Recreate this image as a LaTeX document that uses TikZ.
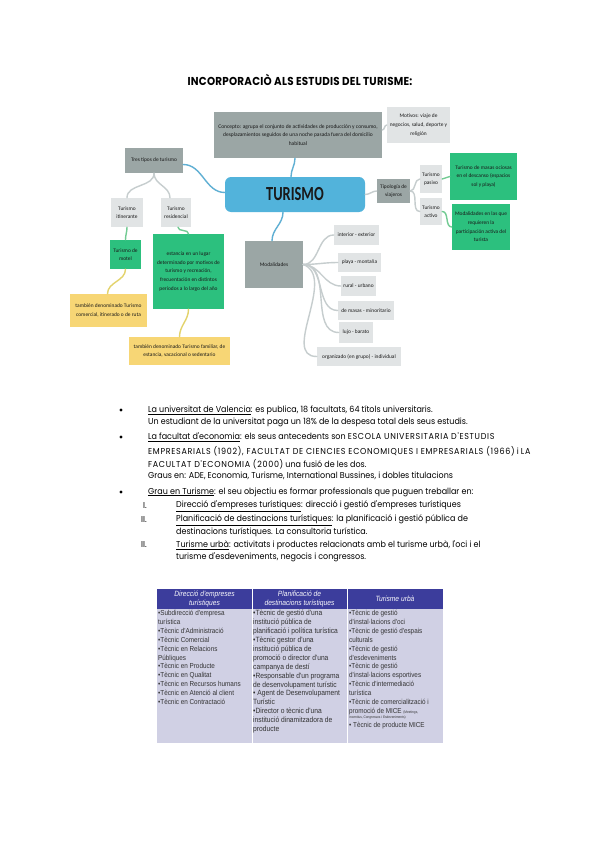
\documentclass[tikz,border=0pt]{standalone}
\usepackage{fontspec}
\usepackage{tikz}
\newfontfamily\bodyfont[FakeStretch=0.93]{Poppins}
\newfontfamily\capsfont[FakeStretch=0.93,LetterSpace=8]{Poppins}
\newfontfamily\headfont[FakeStretch=0.9,LetterSpace=2]{Poppins}
\newfontfamily\mapfont{Carlito}
\newfontfamily\bigmapfont[FakeStretch=0.72]{Carlito}
\newfontfamily\tabfont[FakeStretch=0.88]{Liberation Sans}
\definecolor{mapblue}{HTML}{52B3DB}
\definecolor{mapdark}{HTML}{9BA6A5}
\definecolor{maplight}{HTML}{E1E4E5}
\definecolor{mapgreen}{HTML}{2CC07E}
\definecolor{mapyellow}{HTML}{F7D675}
\definecolor{linkblue}{HTML}{5FAFD3}
\definecolor{linkgrey}{HTML}{C6CDCE}
\definecolor{linkgreen}{HTML}{72CB93}
\definecolor{linkyellow}{HTML}{E3D36C}
\definecolor{tabheadblue}{HTML}{3C3D9C}
\definecolor{tabbody}{HTML}{D0D0E4}
\newcommand{\caps}[1]{{\capsfont #1}}

\begin{document}
\begin{tikzpicture}[x=1pt,y=-1pt,
    box/.style={inner sep=1pt,align=center,font=\mapfont\fontsize{5.4}{8.6}\selectfont,text=black!90},
    darkbox/.style={box,fill=mapdark},
    lightbox/.style={box,fill=maplight},
    greenbox/.style={box,fill=mapgreen},
    yellowbox/.style={box,fill=mapyellow},
    link/.style={line width=1.4pt,line cap=round,#1},
    textline/.style={anchor=west,inner sep=0,font=\bodyfont\fontsize{8.6}{10}\selectfont},
    tabtext/.style={anchor=north west,inner sep=0,align=left,font=\tabfont\fontsize{7.2}{8.9}\selectfont,text=black!80},
    headcell/.style={align=center,inner sep=0,font=\tabfont\itshape\fontsize{7.6}{8.4}\selectfont,text=white!88!tabbody}]
  \fill[white] (0,0) rectangle (599,848);
  \useasboundingbox (0,0) rectangle (599,848);

  \node[font=\headfont\bfseries\fontsize{11.5}{13}\selectfont] (title) at (300,80) {INCORPORACIÒ ALS ESTUDIS DEL TURISME:};

  \node[box,fill=mapblue,rounded corners=6pt,minimum width=140,minimum height=35,font=\bigmapfont\bfseries\fontsize{20}{21}\selectfont,text=black!90] (turismo) at (295,194.5) {TURISMO};
  \node[darkbox,minimum width=168,minimum height=46,font=\mapfont\fontsize{5.5}{8.8}\selectfont] (concept) at (298,135) {Concepto: agrupa el conjunto de actividades de producción y consumo,\\desplazamientos seguidos de una noche pasada fuera del domicilio\\habitual};
  \node[lightbox,minimum width=63,minimum height=36] (motivos) at (418.5,125) {Motivos: viaje de\\negocios, salud, deporte y\\religión};
  \node[darkbox,minimum width=58,minimum height=25] (tres) at (154,160.5) {Tres tipos de turismo};
  \node[lightbox,minimum width=32,minimum height=29] (itinerante) at (127,212.5) {Turismo\\itinerante};
  \node[lightbox,minimum width=30,minimum height=29] (residencial) at (176,212.5) {Turismo\\residencial};
  \node[greenbox,minimum width=31,minimum height=29] (motel) at (125.5,254.5) {Turismo de\\motel};
  \node[greenbox,minimum width=71,minimum height=75] (estancia) at (188.5,271.5) {estancia en un lugar\\determinado por motivos de\\turismo y recreación,\\frecuentación en distintos\\periodos a lo largo del año};
  \node[yellowbox,minimum width=77,minimum height=33] (comercial) at (108.5,310.5) {también denominado Turismo\\comercial, itinerado o de ruta};
  \node[yellowbox,minimum width=101,minimum height=28] (familiar) at (179.5,351) {también denominado Turismo familiar, de\\estancia, vacacional o sedentario};
  \node[darkbox,minimum width=58,minimum height=47] (modalidades) at (274,264.5) {Modalidades};
  \node[lightbox,minimum width=45,minimum height=20] (interior) at (356.5,235) {interior - exterior};
  \node[lightbox,minimum width=43,minimum height=19] (playa) at (359.5,262.5) {playa - montaña};
  \node[lightbox,minimum width=35,minimum height=20] (rural) at (358.5,286) {rural - urbano};
  \node[lightbox,minimum width=56,minimum height=19] (masas) at (366,310.5) {de masas - minoritario};
  \node[lightbox,minimum width=34,minimum height=21] (lujo) at (356,332.5) {lujo - barato};
  \node[lightbox,minimum width=84,minimum height=19] (organizado) at (359,356.5) {organizado (en grupo) - individual};
  \node[darkbox,minimum width=33,minimum height=24] (tipologia) at (393.5,191) {Tipología de\\viajeros};
  \node[lightbox,minimum width=22,minimum height=28] (pasivo) at (431,179) {Turismo\\pasivo};
  \node[lightbox,minimum width=22,minimum height=27] (activo) at (431,211.5) {Turismo\\activo};
  \node[greenbox,minimum width=67,minimum height=47] (ocio) at (483.5,176.5) {Turismo de masas ociosas\\en el descanso (espacios\\sol y playa)};
  \node[greenbox,minimum width=58,minimum height=46] (participa) at (481,227) {Modalidades en las que\\requieren la\\participación activa del\\turista};

  \draw[link=linkblue] ([xshift=-4]turismo.north) to[out=90,in=-90] ([xshift=-3]concept.south);
  \draw[link=linkgrey] ([yshift=5]concept.east) to[out=0,in=180] (motivos.west);
  \draw[link=linkblue] ([yshift=2]turismo.west) to[out=180,in=0] ([yshift=-4]tres.east);
  \draw[link=linkgrey] (tres.south) to[out=-90,in=90] (itinerante.north);
  \draw[link=linkgrey] (tres.south) to[out=-90,in=90] ([xshift=-6]residencial.north);
  \draw[link=linkgreen] (itinerante.south) to[out=-90,in=90] (motel.north);
  \draw[link=linkgreen] ([xshift=2]residencial.south) to[out=-90,in=90] (estancia.north);
  \draw[link=linkyellow] (motel.south) to[out=-90,in=90] ([xshift=-1]comercial.north);
  \draw[link=linkyellow] (estancia.south) to[out=-90,in=90] (familiar.north);
  \draw[link=linkblue] ([xshift=-12]turismo.south) to[out=-90,in=90] ([xshift=-2]modalidades.north);
  \foreach \leaf in {interior,playa,rural,masas,lujo}
    \draw[link=linkgrey] (modalidades.east) to[out=0,in=180] (\leaf.west);
  \draw[link=linkgrey] (modalidades.east) to[out=-20,in=180] (organizado.west);
  \draw[link=linkgrey] (turismo.east) to[out=0,in=180] (tipologia.west);
  \draw[link=linkgrey] (tipologia.east) to[out=0,in=180] (pasivo.west);
  \draw[link=linkgrey] (tipologia.east) to[out=0,in=180] (activo.west);
  \draw[link=linkgreen] (pasivo.east) to[out=0,in=180] (ocio.west);
  \draw[link=linkgreen] (activo.east) to[out=0,in=180] (participa.west);

  \fill (121,410) circle (1.7);
  \fill (121,437) circle (1.7);
  \fill (121,492) circle (1.7);
  \node[textline] (l1) at (148,410) {\underline{La universitat de Valencia}: es publica, 18 facultats, 64 títols universitaris.};
  \node[textline] (l2) at (148,422) {Un estudiant de la universitat paga un 18\% de la despesa total dels seus estudis.};
  \node[textline] (l3) at (148,437) {\underline{La facultat d'economia}: els seus antecedents son \caps{ESCOLA UNIVERSITARIA D'ESTUDIS}};
  \node[textline] (l4) at (148,451) {\caps{EMPRESARIALS (1902), FACULTAT DE CIENCIES ECONOMIQUES I EMPRESARIALS (1966)} i \caps{LA}};
  \node[textline] (l5) at (148,464) {\caps{FACULTAT D'ECONOMIA (2000)} una fusió de les dos.};
  \node[textline] (l6) at (148,476) {Graus en: ADE, Economia, Turisme, International Bussines, i dobles titulacions};
  \node[textline] (l7) at (148,492) {\underline{Grau en Turisme}: el seu objectiu es formar professionals que puguen treballar en:};
  \node[textline] (n1) at (143,506) {I.};
  \node[textline] (l8) at (176,506) {\underline{Direcció d'empreses turístiques}: direcció i gestió d'empreses turístiques};
  \node[textline] (n2) at (141,520) {II.};
  \node[textline] (l9) at (176,520) {\underline{Planificació de destinacions turístiques}: la planificació i gestió pública de};
  \node[textline] (l10) at (176,532) {destinacions turístiques. La consultoria turística.};
  \node[textline] (n3) at (141,545) {II.};
  \node[textline] (l11) at (176,545) {\underline{Turisme urbà}: activitats i productes relacionats amb el turisme urbà, l'oci i el};
  \node[textline] (l12) at (176,557) {turisme d'esdeveniments, negocis i congressos.};

  \fill[tabheadblue] (157,589) rectangle (443,609);
  \fill[tabbody] (157,609) rectangle (443,743);
  \draw[white,line width=0.8pt] (252,589) -- (252,743) (347,589) -- (347,743);
  \node[headcell] (h1) at (204.5,599) {Direcció d'empreses\\turístiques};
  \node[headcell] (h2) at (299.5,599) {Planificació de\\destinacions turístiques};
  \node[headcell] (h3) at (395,599) {Turisme urbà};
  \node[tabtext] (c1) at (158,610) {•Subdirecció d'empresa\\turística\\•Tècnic d'Administració\\•Tècnic Comercial\\•Tècnic en Relacions\\Públiques\\•Tècnic en Producte\\•Tècnic en Qualitat\\•Tècnic en Recursos humans\\•Tècnic en Atenció al client\\•Tècnic en Contractació};
  \node[tabtext,font=\tabfont\fontsize{7.6}{8.9}\selectfont] (c2) at (253,610) {•Tècnic de gestió d'una\\institució pública de\\planificació i política turística\\•Tècnic gestor d'una\\institució pública de\\promoció o director d'una\\campanya de destí\\•Responsable d'un programa\\de desenvolupament turístic\\• Agent de Desenvolupament\\Turístic\\•Director o tècnic d'una\\institució dinamitzadora de\\producte};
  \node[tabtext] (c3) at (349,610) {•Tècnic de gestió\\d'instal·lacions d'oci\\•Tècnic de gestió d'espais\\culturals\\•Tècnic de gestió\\d'esdeveniments\\•Tècnic de gestió\\d'instal·lacions esportives\\•Tècnic d'intermediació\\turística\\•Tècnic de comercialització i\\promoció de MICE {\fontsize{3.6}{4}\selectfont(Meetings,}};
  \node[tabtext,font=\tabfont\fontsize{3.6}{4}\selectfont] (c3b) at (349,716) {Incentius, Congressos i Esdeveniments)};
  \node[tabtext] (c3c) at (349,722) {• Tècnic de producte MICE};
\end{tikzpicture}
\end{document}
